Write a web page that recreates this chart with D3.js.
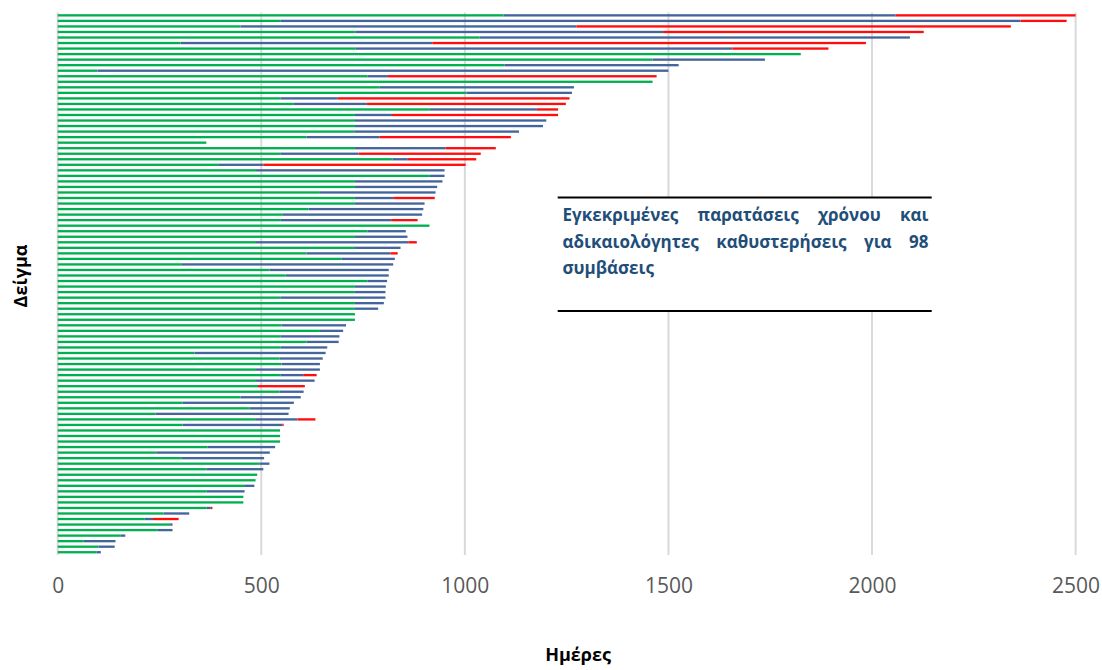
<!DOCTYPE html>
<html lang="el">
<head>
<meta charset="UTF-8">
<title>Παρατάσεις και καθυστερήσεις</title>
<style>
  body { margin: 0; background: #fff; }
  svg { display: block; font-family: "Open Sans", "Noto Sans", sans-serif; }
</style>
</head>
<body>
<svg width="1102" height="670"></svg>
<script src="https://d3js.org/d3.v7.min.js"></script>
<script>
// αρχική διάρκεια (πράσινο), εγκεκριμένες παρατάσεις (μπλε), αδικαιολόγητες καθυστερήσεις (κόκκινο)
var initial = [1095, 548, 449, 732, 1036, 302, 732, 1825, 1461, 1097,
  98, 761, 1461, 791, 1004, 547, 580, 914, 730, 730,
  730, 730, 611, 365, 730, 548, 822, 396, 487, 914,
  730, 730, 644, 730, 730, 616, 553, 548, 913, 761,
  730, 487, 730, 611, 697, 305, 520, 560, 761, 730,
  730, 548, 730, 730, 730, 730, 550, 644, 548, 611,
  548, 336, 545, 550, 487, 548, 487, 492, 545, 449,
  307, 471, 240, 485, 307, 546, 546, 546, 368, 242,
  305, 495, 365, 490, 486, 460, 366, 456, 456, 366,
  260, 214, 276, 246, 155, 64, 100, 96]
var extension = [963, 1817, 825, 755, 1057, 618, 925, 0, 276, 428,
  1402, 50, 0, 477, 259, 141, 179, 263, 91, 470,
  462, 403, 180, 0, 222, 191, 38, 109, 463, 36,
  215, 202, 284, 94, 171, 282, 342, 271, 0, 94,
  129, 374, 112, 206, 131, 519, 293, 253, 48, 76,
  75, 257, 71, 57, 0, 0, 158, 57, 144, 79,
  114, 322, 106, 94, 157, 55, 144, 0, 59, 148,
  273, 99, 327, 104, 245, 0, 0, 0, 166, 279,
  202, 25, 140, 0, 0, 23, 93, 0, 0, 10,
  63, 20, 6, 36, 11, 78, 40, 10]
var delay = [442, 113, 1067, 640, 0, 1065, 236, 0, 0, 0,
  0, 660, 0, 0, 0, 569, 489, 52, 408, 0,
  0, 0, 322, 0, 124, 300, 168, 497, 0, 0,
  0, 0, 0, 102, 0, 0, 0, 65, 0, 0,
  0, 21, 0, 18, 0, 0, 0, 0, 0, 0,
  0, 0, 0, 0, 0, 0, 0, 0, 0, 0,
  0, 0, 0, 0, 0, 33, 0, 115, 0, 0,
  0, 0, 0, 44, 3, 0, 0, 0, 0, 0,
  0, 0, 0, 0, 0, 0, 0, 0, 0, 4,
  0, 63, 0, 0, 0, 0, 0, 0]
var xTicks = [0, 500, 1000, 1500, 2000, 2500]
var seriesKeys = ["initial", "extension", "delay"]
var seriesColors = ["#00b050", "#44659c", "#ff0d0d"]

var svg = d3.select("svg")
var margin = { left: 57.7, right: 1075.6, top: 12.6, bottom: 555 }

var rows = initial.map(function (d, i) {
  return { id: i, initial: d, extension: extension[i], delay: delay[i] }
})

var x = d3.scaleLinear().domain([0, 2500]).range([margin.left, margin.right])
var y = d3.scaleBand().domain(rows.map(function (d) { return d.id }))
  .range([margin.top, margin.bottom]).paddingInner(0.58).paddingOuter(0.29)

// κάθετες γραμμές πλέγματος
svg.append("g").selectAll("line").data(xTicks).enter().append("line")
  .attr("x1", function (d) { return x(d) }).attr("x2", function (d) { return x(d) })
  .attr("y1", margin.top).attr("y2", margin.bottom)
  .style("stroke", "#d9d9d9").style("stroke-width", 2)

// ράβδοι
var stacked = d3.stack().keys(seriesKeys)(rows)
svg.append("g").selectAll("g").data(stacked).enter().append("g")
  .style("fill", function (d, i) { return seriesColors[i] })
  .selectAll("rect").data(function (d) { return d.filter(function (s) { return s[1] > s[0] }) })
  .enter().append("rect")
  .attr("x", function (d) { return x(d[0]) })
  .attr("width", function (d) { return x(d[1]) - x(d[0]) })
  .attr("y", function (d) { return y(d.data.id) })
  .attr("height", y.bandwidth())

// άξονας x
var xAxis = d3.axisBottom(x).tickValues(xTicks).tickFormat(d3.format("d")).tickSize(0).tickPadding(0)
var gx = svg.append("g").attr("transform", "translate(0,593)").call(xAxis)
gx.select(".domain").remove()
gx.selectAll("text").style("font-size", "21px").style("fill", "#595959")
  .style("font-family", "'Open Sans', sans-serif").attr("dy", null).attr("y", 0)

// τίτλοι αξόνων
svg.append("text").attr("x", 578).attr("y", 661).attr("text-anchor", "middle")
  .style("font-size", "18px").style("font-weight", "bold").style("fill", "#000").text("Ημέρες")
svg.append("text").attr("transform", "translate(27,276) rotate(-90)").attr("text-anchor", "middle")
  .style("font-size", "18px").style("font-weight", "bold").style("fill", "#000").text("Δείγμα")

// πλαίσιο σχολίου
var box = { x1: 557.7, x2: 931.7, top: 197.5, bottom: 311 }
svg.append("rect").attr("x", box.x1).attr("y", box.top).attr("width", box.x2 - box.x1)
  .attr("height", box.bottom - box.top).style("fill", "#fff")
svg.selectAll(".rule").data([box.top, box.bottom]).enter().append("line")
  .attr("x1", box.x1).attr("x2", box.x2).attr("y1", function (d) { return d }).attr("y2", function (d) { return d })
  .style("stroke", "#000").style("stroke-width", 2)

var noteLines = [
  { words: ["Εγκεκριμένες", "παρατάσεις", "χρόνου", "και"], y: 221, justify: true },
  { words: ["αδικαιολόγητες", "καθυστερήσεις", "για", "98"], y: 247.5, justify: true },
  { words: ["συμβάσεις"], y: 274, justify: false }
]
var textLeft = 562.5, textRight = 928.5
noteLines.forEach(function (ln) {
  var g = svg.append("g")
  var nodes = ln.words.map(function (w) {
    return g.append("text").attr("y", ln.y).style("font-size", "17px").style("font-weight", "bold")
      .style("fill", "#1f4e79").text(w)
  })
  var widths = nodes.map(function (n) { return n.node().getComputedTextLength() })
  var total = d3.sum(widths)
  var gap = ln.justify && nodes.length > 1 ? (textRight - textLeft - total) / (nodes.length - 1) : 5
  var cx = textLeft
  nodes.forEach(function (n, i) {
    n.attr("x", cx)
    cx += widths[i] + gap
  })
})
</script>
</body>
</html>
